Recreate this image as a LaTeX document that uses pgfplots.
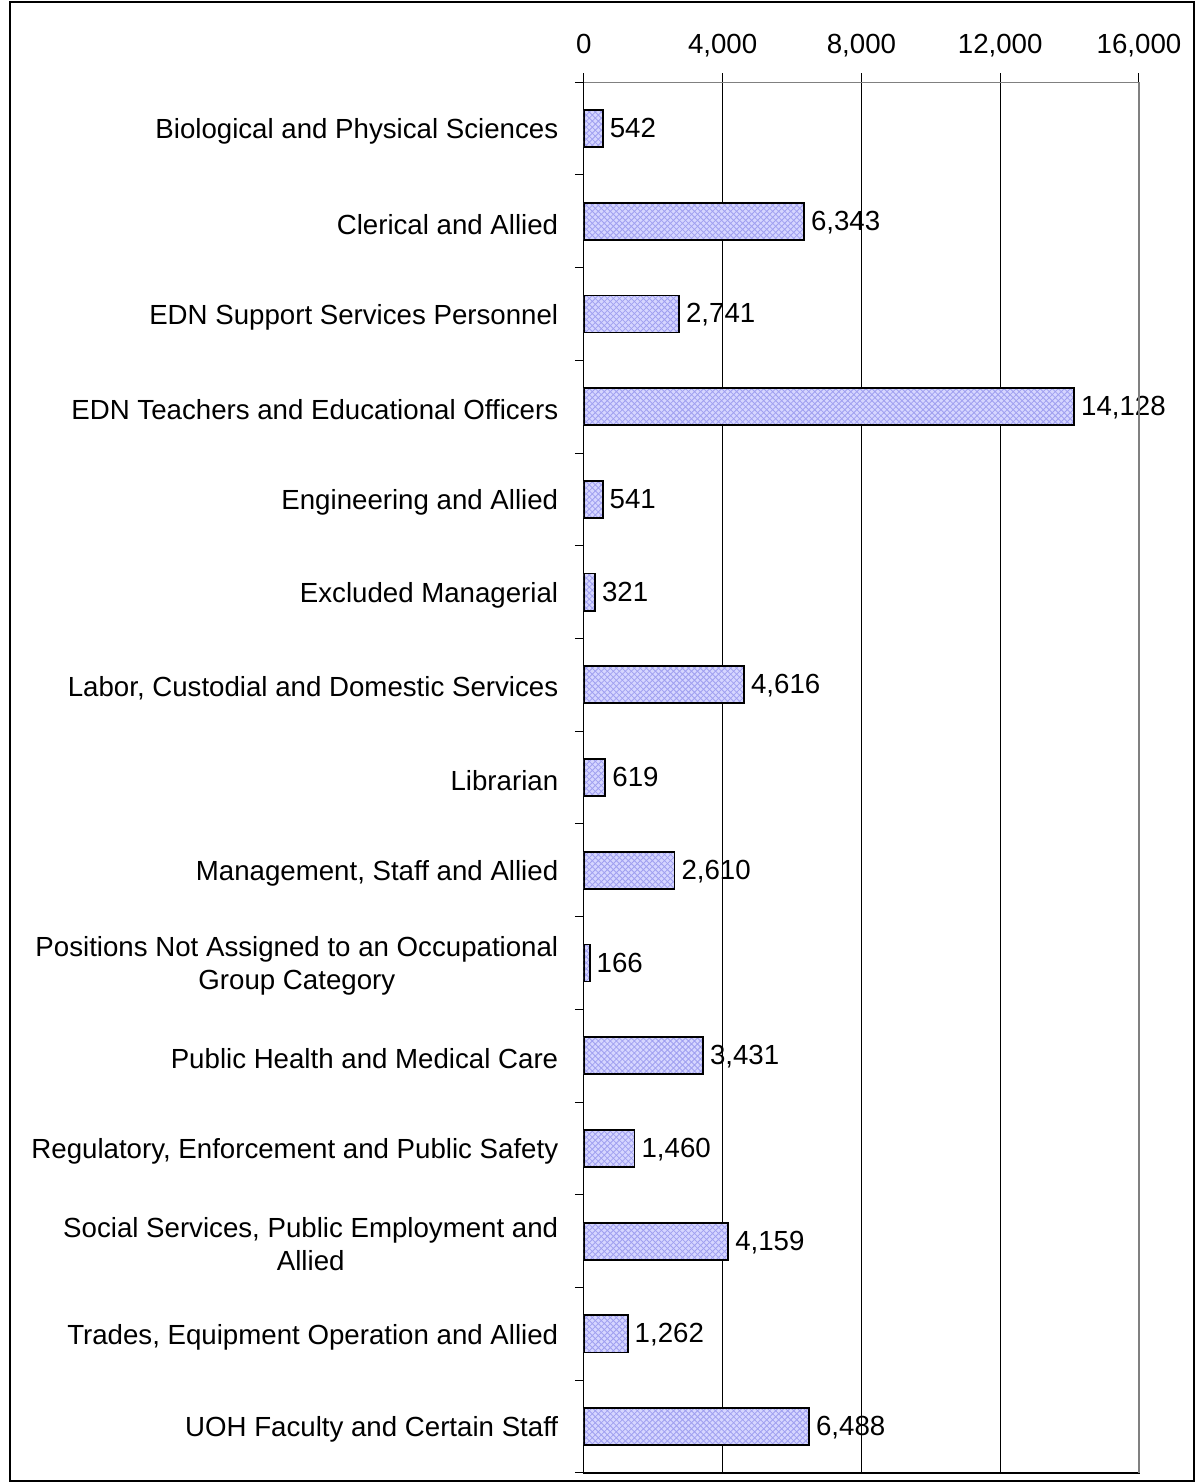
\documentclass[border=0pt]{standalone}
\usepackage{fontspec}
\setmainfont{Liberation Sans}
\usepackage{pgfplots}
\pgfplotsset{compat=1.18}
\usetikzlibrary{patterns}
\definecolor{barfill}{RGB}{214,214,255}
\definecolor{barhatch}{RGB}{160,160,240}
\begin{document}
\fontsize{13.8}{16.5}\selectfont
\pgfkeys{/pgf/number format/.cd,1000 sep={,},assume math mode=true}
\begin{tikzpicture}
\begin{axis}[
  name=ax,
  scale only axis, width=277pt, height=694pt,
  xbar, bar width=18.5pt,
  xmin=0, xmax=16000,
  ymin=-0.5, ymax=14.5, y dir=reverse,
  xtick={0,4000,8000,12000,16000},
  scaled x ticks=false,
  xtick pos=right, xticklabel pos=right,
  xmajorgrids, grid style={black, line width=0.5pt},
  axis line style={black, line width=0.6pt},
  tick style={black, line width=0.5pt},
  tick align=outside, major tick length=4.5pt,
  ytick={-0.5,0.5,...,14.5}, yticklabels={},
  ytick pos=left,
  extra y ticks={0,1,...,14},
  extra y tick style={major tick length=0pt, tick label style={xshift=-8pt, yshift=-1.5pt}},
  extra y tick labels={
    {Biological and Physical Sciences},
    {Clerical and Allied},
    {EDN Support Services Personnel},
    {EDN Teachers and Educational Officers},
    {Engineering and Allied},
    {Excluded Managerial},
    {Labor, Custodial and Domestic Services},
    {Librarian},
    {Management, Staff and Allied},
    {Positions Not Assigned to an Occupational\\Group Category},
    {Public Health and Medical Care},
    {Regulatory, Enforcement and Public Safety},
    {Social Services, Public Employment and\\Allied},
    {Trades, Equipment Operation and Allied},
    {UOH Faculty and Certain Staff}},
  y tick label style={align=center, font=\fontsize{13.8}{16.5}\selectfont},
  x tick label style={font=\fontsize{13.8}{16.5}\selectfont, text height=10pt, text depth=3pt, yshift=2pt},
  point meta=x,
  nodes near coords,
  nodes near coords style={anchor=west, font=\fontsize{13.8}{16.5}\selectfont, xshift=-1.5pt, text height=10pt, text depth=3pt, yshift=-1pt},
  after end axis/.code={
    \draw[gray, line width=0.6pt] (rel axis cs:1,0) -- (rel axis cs:1,1);
    \draw[gray, line width=0.6pt] (rel axis cs:0,1) -- (rel axis cs:1,1);
  },
]
\addplot[draw=black, line width=0.9pt, fill=barfill,
  postaction={pattern=crosshatch, pattern color=barhatch}] coordinates {
  (542,0) (6343,1) (2741,2) (14128,3) (541,4) (321,5) (4616,6) (619,7)
  (2610,8) (166,9) (3431,10) (1460,11) (4159,12) (1262,13) (6488,14)
};
\end{axis}
\pgfresetboundingbox
\path[use as bounding box] ([shift={(-287.5pt,-5pt)}]ax.south west) rectangle ([shift={(28.5pt,41pt)}]ax.north east);
\draw[line width=1pt] ([shift={(-286.5pt,-4pt)}]ax.south west) rectangle ([shift={(27.5pt,40pt)}]ax.north east);
\end{tikzpicture}
\end{document}
